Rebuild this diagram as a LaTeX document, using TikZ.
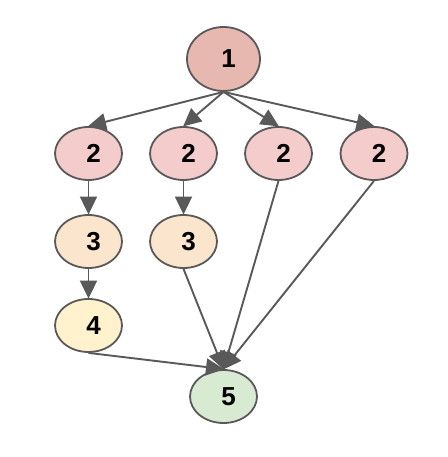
\documentclass[tikz,border=0pt]{standalone}
\usepackage{fontspec}
\setmainfont{Liberation Sans}
\usetikzlibrary{arrows.meta,shapes.geometric}
\definecolor{cA}{HTML}{E6B8AF}
\definecolor{cB}{HTML}{F4CCCC}
\definecolor{cC}{HTML}{FCE5CD}
\definecolor{cD}{HTML}{FFF2CC}
\definecolor{cE}{HTML}{D9EAD3}
\definecolor{lineg}{HTML}{595959}
\tikzset{
  oval/.style={ellipse, draw=lineg, line width=1.8pt, minimum width=67pt, minimum height=53pt,
    inner sep=0pt, font=\fontsize{26}{26}\selectfont\bfseries},
  big/.style={oval, minimum width=73pt, minimum height=64pt},
  edge/.style={draw=lineg, line width=1.9pt, -{Triangle[length=18pt,width=17pt]}, shorten >=-0.5pt}
}
\newcommand{\lbl}[1]{\hspace*{10pt}#1}
\begin{document}
\begin{tikzpicture}[x=1pt,y=1pt]
\useasboundingbox (0,0) rectangle (447,-457);
\node[big, fill=cA] (n1) at (223.5,-59) {\lbl{1}};
\node[oval, fill=cB] (a) at (88.5,-153.5) {\lbl{2}};
\node[oval, fill=cB] (b) at (183.5,-153.5) {\lbl{2}};
\node[oval, fill=cB] (c) at (278.5,-153.5) {\lbl{2}};
\node[oval, fill=cB] (d) at (374,-153.5) {\lbl{2}};
\node[oval, fill=cC] (a3) at (88.5,-241.5) {\lbl{3}};
\node[oval, fill=cC] (b3) at (183.5,-241.5) {\lbl{3}};
\node[oval, fill=cD] (a4) at (88.5,-325.5) {\lbl{4}};
\node[oval, fill=cE] (n5) at (223.5,-396.5) {\lbl{5}};
\draw[edge] (n1.south) -- (a.north);
\draw[edge] (n1.south) -- (b.north);
\draw[edge] (n1.south) -- (c.north);
\draw[edge] (n1.south) -- (d.north);
\draw[edge] (a.south) -- (a3.north);
\draw[edge] (b.south) -- (b3.north);
\draw[edge] (a3.south) -- (a4.north);
\draw[edge] (a4.south) -- (n5.north);
\draw[edge] (b3.south) -- (n5.north);
\draw[edge] (c.south) -- (n5.north);
\draw[edge] (d.south) -- (n5.north);
\end{tikzpicture}
\end{document}
